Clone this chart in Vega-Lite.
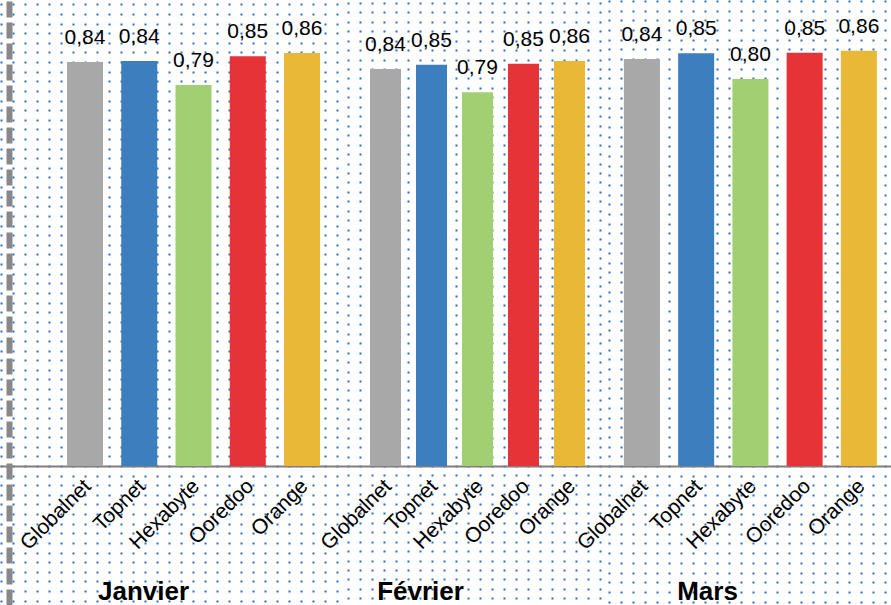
{
  "$schema": "https://vega.github.io/schema/vega-lite/v6.json",
  "padding": 0,
  "autosize": {"type": "pad"},
  "bounds": "flush",
  "spacing": 0,
  "background": "white",
  "data": {
    "values": [
      {"mois": "Janvier", "operateur": "Globalnet", "valeur": 0.840},
      {"mois": "Janvier", "operateur": "Topnet", "valeur": 0.842},
      {"mois": "Janvier", "operateur": "Hexabyte", "valeur": 0.792},
      {"mois": "Janvier", "operateur": "Ooredoo", "valeur": 0.852},
      {"mois": "Janvier", "operateur": "Orange", "valeur": 0.859},
      {"mois": "Février", "operateur": "Globalnet", "valeur": 0.840},
      {"mois": "Février", "operateur": "Topnet", "valeur": 0.849},
      {"mois": "Février", "operateur": "Hexabyte", "valeur": 0.791},
      {"mois": "Février", "operateur": "Ooredoo", "valeur": 0.851},
      {"mois": "Février", "operateur": "Orange", "valeur": 0.857},
      {"mois": "Mars", "operateur": "Globalnet", "valeur": 0.840},
      {"mois": "Mars", "operateur": "Topnet", "valeur": 0.852},
      {"mois": "Mars", "operateur": "Hexabyte", "valeur": 0.799},
      {"mois": "Mars", "operateur": "Ooredoo", "valeur": 0.853},
      {"mois": "Mars", "operateur": "Orange", "valeur": 0.857}
    ]
  },
  "hconcat": [
    {
      "width": 347,
      "height": 605,
      "transform": [{"filter": "datum.mois === 'Janvier'"}],
      "encoding": {
        "x": {
          "field": "operateur", "type": "nominal",
          "sort": ["Globalnet", "Topnet", "Hexabyte", "Ooredoo", "Orange"],
          "scale": {"paddingInner": 0.336, "paddingOuter": 0.866, "align": 0.713},
          "axis": {"title": "Janvier", "offset": -139, "titleX": 143, "titleY": 133}
        },
        "y": {
          "field": "valeur", "type": "quantitative",
          "scale": {"domain": [-0.289, 0.969], "nice": false, "zero": false},
          "axis": {"offset": -9, "domain": true, "domainColor": "#888888", "domainWidth": 6, "domainDash": [16, 5]}
        }
      },
      "layer": [
        {"mark": {"type": "bar"}, "encoding": {"color": {"field": "operateur", "type": "nominal", "scale": {"domain": ["Globalnet", "Topnet", "Hexabyte", "Ooredoo", "Orange"], "range": ["#a8a8a8", "#3d7ebf", "#a1cf72", "#e63337", "#eab837"]}, "legend": null}}},
        {"mark": {"type": "text", "dy": -18, "baseline": "alphabetic", "fontSize": 21, "font": "Liberation Sans", "color": "black"}, "encoding": {"text": {"field": "valeur", "type": "quantitative", "format": ".2f"}}}
      ]
    },
    {
      "width": 261,
      "height": 605,
      "transform": [{"filter": "datum.mois === 'Février'"}],
      "encoding": {
        "x": {
          "field": "operateur", "type": "nominal",
          "sort": ["Globalnet", "Topnet", "Hexabyte", "Ooredoo", "Orange"],
          "scale": {"paddingInner": 0.326, "paddingOuter": 0.5, "align": 0.5},
          "axis": {"title": "Février", "offset": -139, "titleX": 73, "titleY": 133}
        },
        "y": {
          "field": "valeur", "type": "quantitative",
          "scale": {"domain": [-0.294, 0.986], "nice": false, "zero": false},
          "axis": {"domain": false}
        }
      },
      "layer": [
        {"mark": {"type": "bar"}, "encoding": {"color": {"field": "operateur", "type": "nominal", "scale": {"domain": ["Globalnet", "Topnet", "Hexabyte", "Ooredoo", "Orange"], "range": ["#a8a8a8", "#3d7ebf", "#a1cf72", "#e63337", "#eab837"]}, "legend": null}}},
        {"mark": {"type": "text", "dy": -18, "baseline": "alphabetic", "fontSize": 21, "font": "Liberation Sans", "color": "black"}, "encoding": {"text": {"field": "valeur", "type": "quantitative", "format": ".2f"}}}
      ]
    },
    {
      "width": 283,
      "height": 605,
      "transform": [{"filter": "datum.mois === 'Mars'"}],
      "encoding": {
        "x": {
          "field": "operateur", "type": "nominal",
          "sort": ["Globalnet", "Topnet", "Hexabyte", "Ooredoo", "Orange"],
          "scale": {"paddingInner": 0.336, "paddingOuter": 0.277, "align": 0.53},
          "axis": {"title": "Mars", "offset": -139, "titleX": 99, "titleY": 133}
        },
        "y": {
          "field": "valeur", "type": "quantitative",
          "scale": {"domain": [-0.287, 0.962], "nice": false, "zero": false},
          "axis": {"domain": false}
        }
      },
      "layer": [
        {"mark": {"type": "bar"}, "encoding": {"color": {"field": "operateur", "type": "nominal", "scale": {"domain": ["Globalnet", "Topnet", "Hexabyte", "Ooredoo", "Orange"], "range": ["#a8a8a8", "#3d7ebf", "#a1cf72", "#e63337", "#eab837"]}, "legend": null}}},
        {"mark": {"type": "text", "dy": -18, "baseline": "alphabetic", "fontSize": 21, "font": "Liberation Sans", "color": "black"}, "encoding": {"text": {"field": "valeur", "type": "quantitative", "format": ".2f"}}}
      ]
    }
  ],
  "resolve": {"scale": {"color": "shared"}},
  "config": {
    "view": {"stroke": null},
    "locale": {"number": {"decimal": ",", "thousands": " ", "grouping": [3], "currency": ["", " €"]}},
    "axisX": {
      "labelAngle": -45,
      "labelFont": "Liberation Sans",
      "labelFontSize": 21,
      "labelColor": "black",
      "ticks": false,
      "labelPadding": 9,
      "labelOffset": -5,
      "domainColor": "#7f7f7f",
      "domainWidth": 2,
      "grid": false,
      "titleFont": "Liberation Sans",
      "titleFontSize": 26,
      "titleFontWeight": "bold",
      "titleColor": "black",
      "titleBaseline": "alphabetic",
      "titleAlign": "center"
    },
    "axisY": {
      "labels": false,
      "ticks": false,
      "title": null,
      "grid": true,
      "gridColor": "#2a6fc4",
      "gridWidth": 2,
      "gridDash": [2, 10],
      "tickCount": 65
    }
  }
}
